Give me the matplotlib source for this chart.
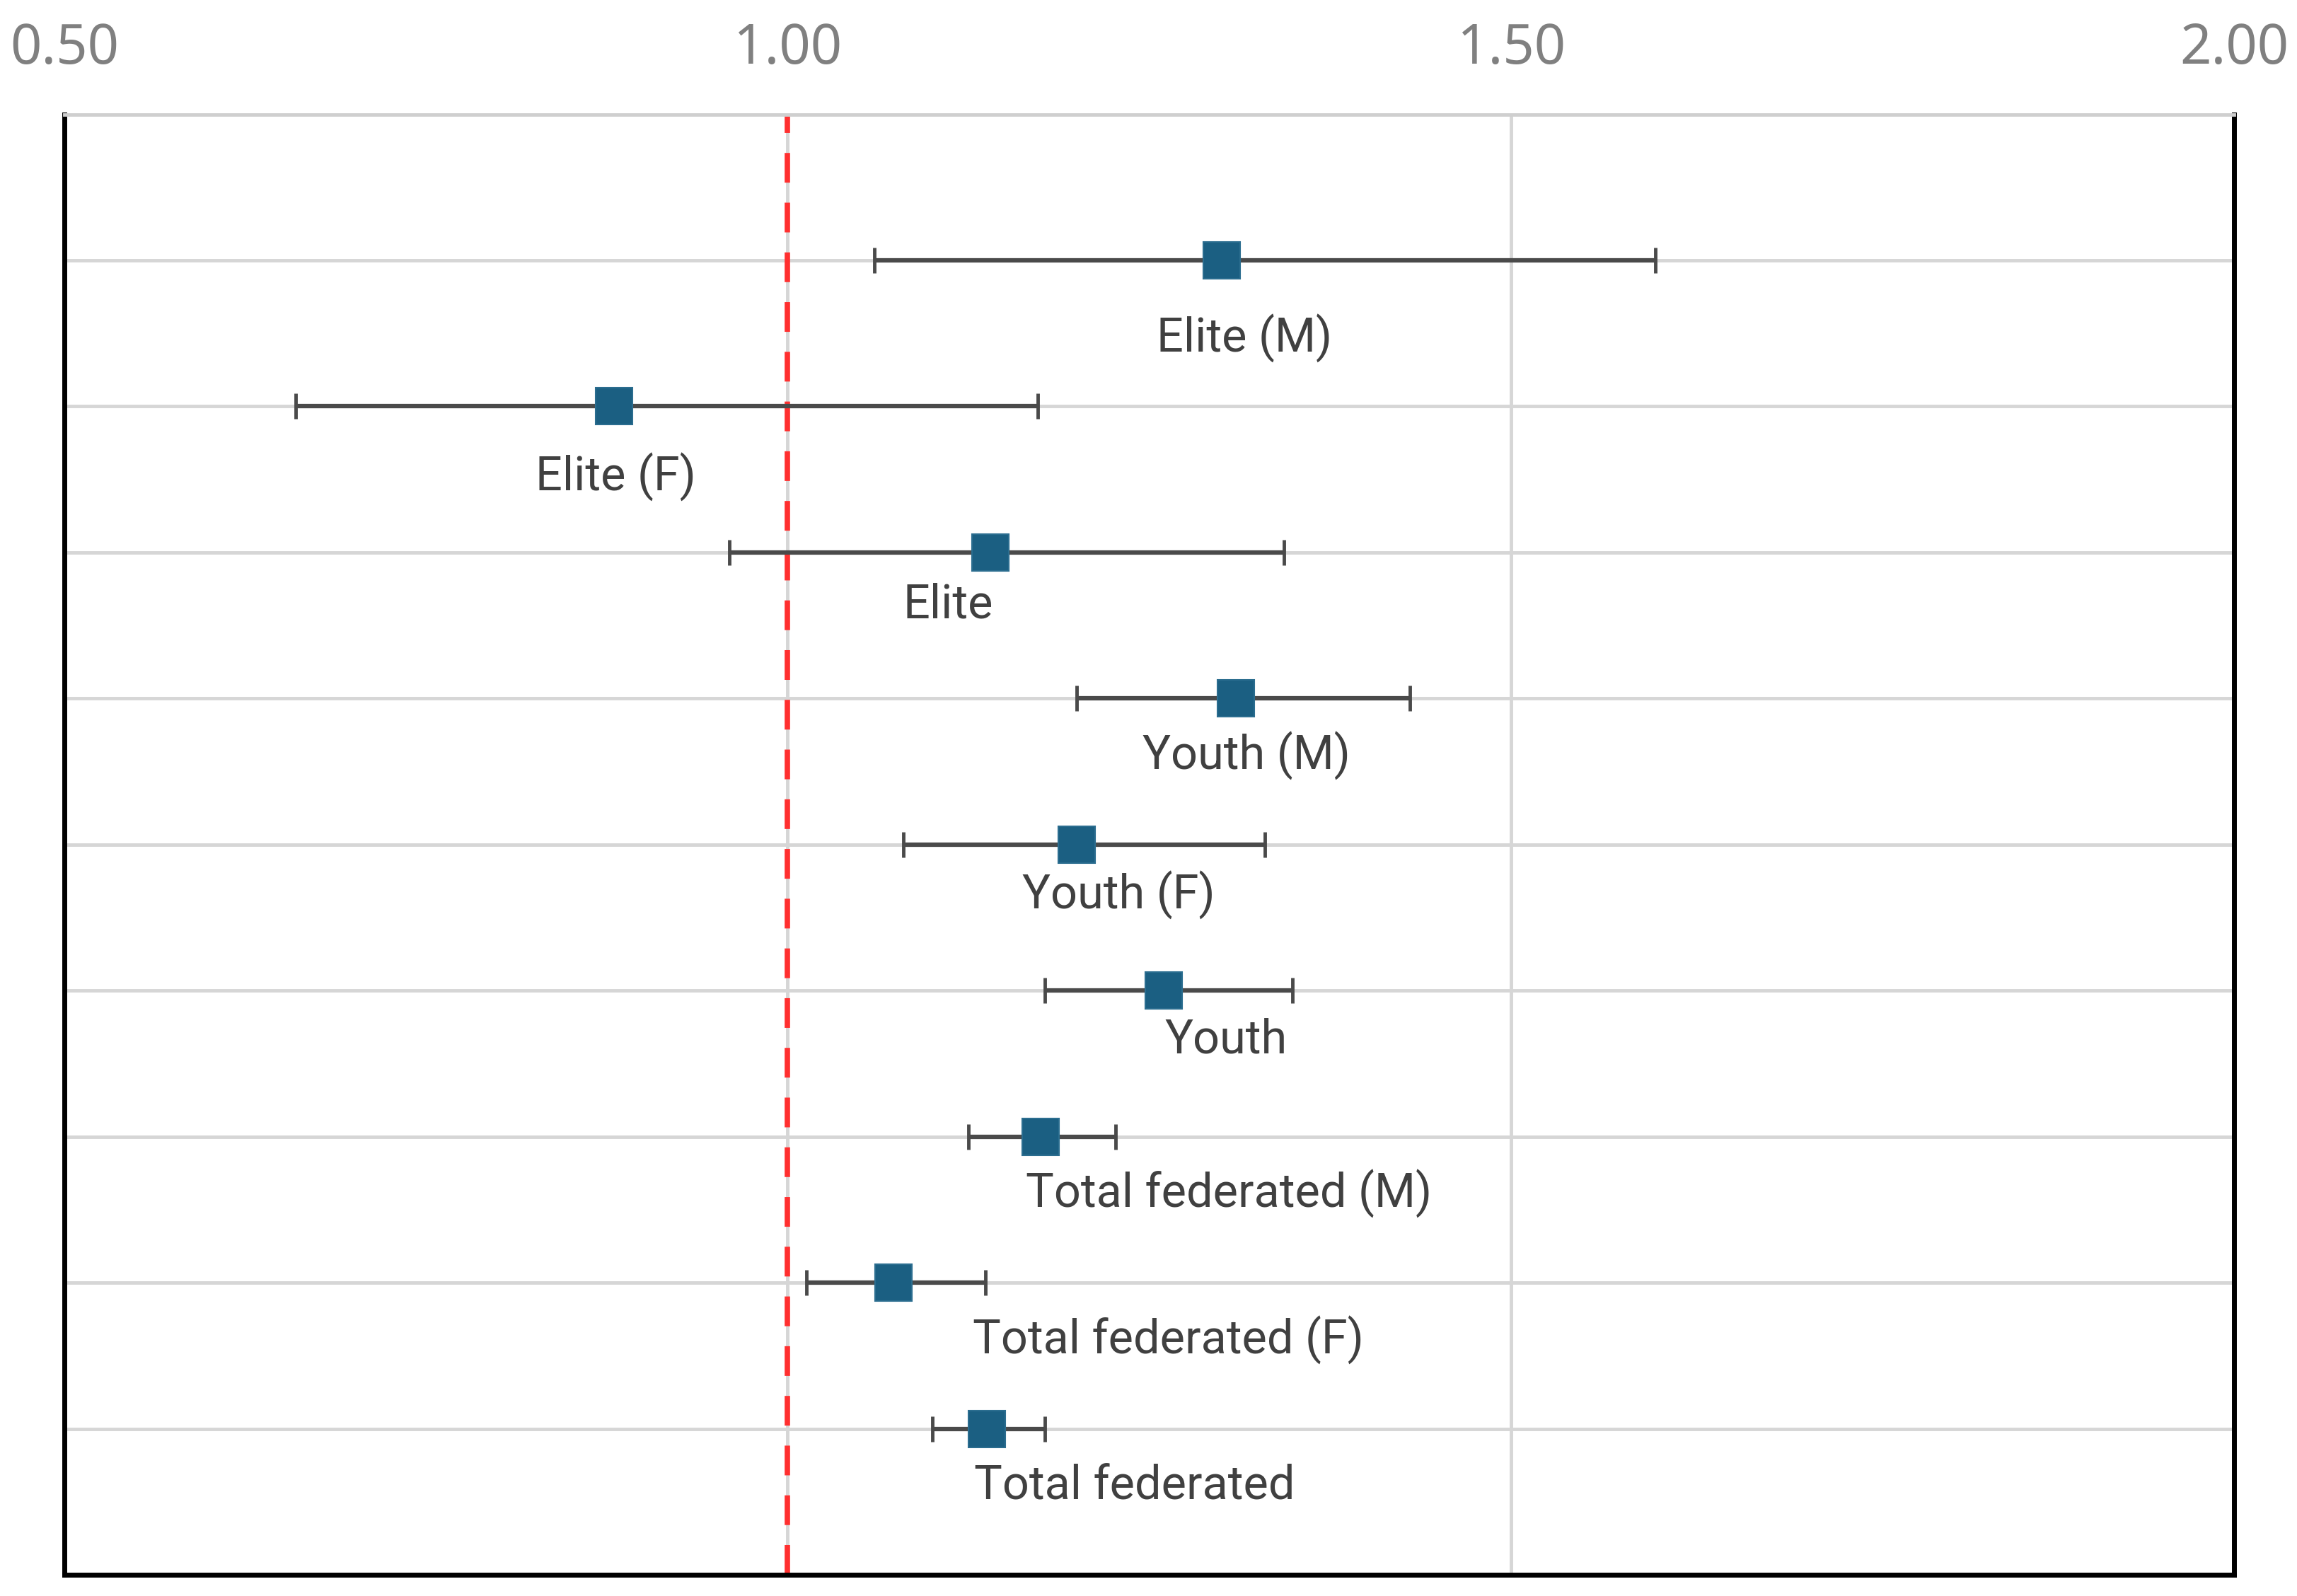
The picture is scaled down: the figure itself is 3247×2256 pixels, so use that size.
import numpy as np
import matplotlib
matplotlib.use('Agg')
import matplotlib.pyplot as plt

### Data
groups = ['Elite (M)', 'Elite (F)', 'Elite',
          'Youth (M)', 'Youth (F)', 'Youth',
          'Total federated (M)', 'Total federated (F)', 'Total federated']
ratio = [1.30, 0.88, 1.14, 1.31, 1.20, 1.26, 1.175, 1.073, 1.138]
lower = [1.06, 0.66, 0.96, 1.20, 1.08, 1.178, 1.125, 1.013, 1.10]
upper = [1.60, 1.173, 1.343, 1.43, 1.33, 1.349, 1.227, 1.137, 1.178]
xticks = [0.5, 1.0, 1.5, 2.0]

### Layout: where each text label sits (x centre, y offset below its row)
label_x = [1.316, 0.881, 1.111, 1.317, 1.229, 1.303, 1.305, 1.263, 1.240]
label_dy = [0.535, 0.487, 0.360, 0.393, 0.346, 0.339, 0.392, 0.395, 0.398]

rows = np.arange(1, len(groups) + 1)
ratio = np.array(ratio)
err = [ratio - np.array(lower), np.array(upper) - ratio]

### graph
fig = plt.figure(figsize=(32.47, 22.56), dpi=100, facecolor='white')
ax = fig.add_axes([0.028, 0.0133, 0.9446, 0.9151])

ax.set_xlim(0.5, 2.0)
ax.set_ylim(10, 0)
ax.set_xticks(xticks)
ax.set_xticklabels(['%.2f' % t for t in xticks], family=['Noto Sans', 'DejaVu Sans'],
                   fontsize=56, color='#808080')
ax.set_yticks(rows)
ax.set_yticklabels([])
ax.xaxis.tick_top()
ax.tick_params(axis='both', length=0)
ax.tick_params(axis='x', pad=38)

# grid
ax.grid(True, color='#d6d6d6', linewidth=3.5)
ax.set_axisbelow(True)

# spines
for side in ['left', 'right', 'bottom']:
    ax.spines[side].set_color('black')
    ax.spines[side].set_linewidth(5)
ax.spines['top'].set_color('#cfcfcf')
ax.spines['top'].set_linewidth(3.5)

# reference line at 1
ax.axvline(1.0, color='#ff2f2f', linewidth=5.5, linestyle=(0, (5.5, 3.7)), zorder=2)

# error bars + markers
ax.errorbar(ratio, rows, xerr=err, fmt='none', ecolor='#4a4a4a',
            elinewidth=4.5, capsize=13, capthick=3.5, zorder=3)
ax.plot(ratio, rows, linestyle='none', marker='s', markersize=38,
        color='#1b5f82', markeredgecolor='#2b6d8f', markeredgewidth=1.5, zorder=4)

# labels under each point
for name, lx, r, dy in zip(groups, label_x, rows, label_dy):
    ax.text(lx, r + dy, name, ha='center', va='center', fontsize=48,
            color='#404040', family=['Roboto', 'DejaVu Sans'])

fig.savefig('out.png', dpi=100)
